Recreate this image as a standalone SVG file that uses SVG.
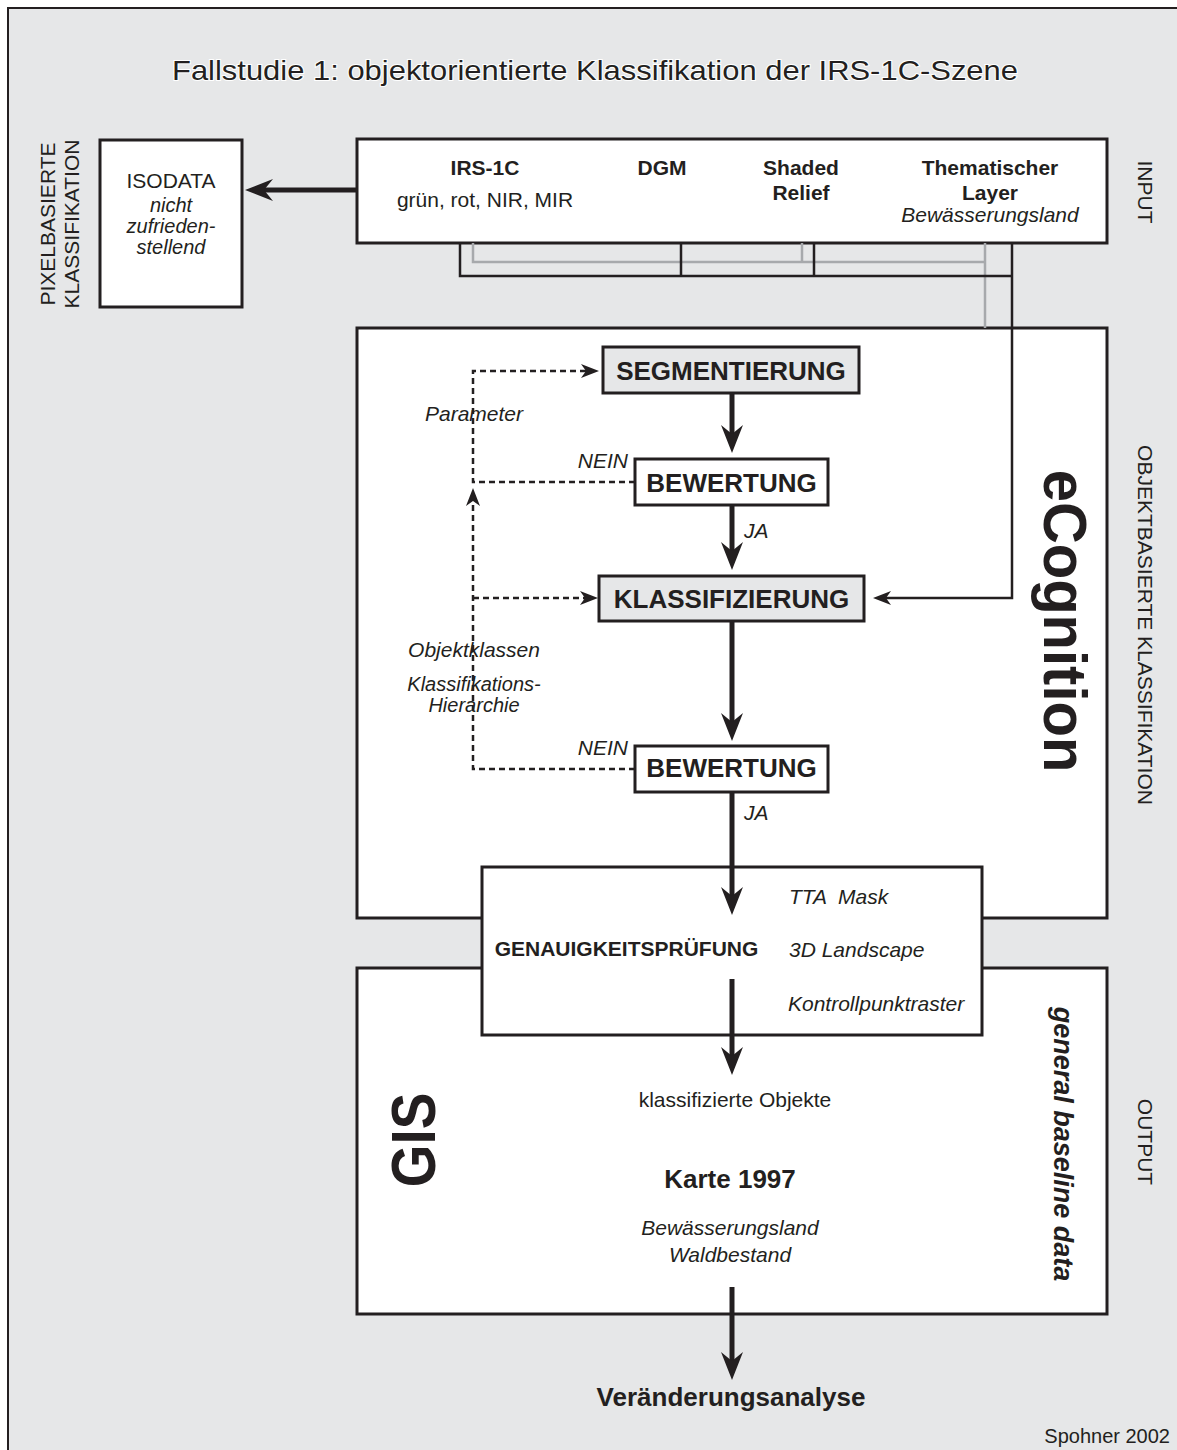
<svg xmlns="http://www.w3.org/2000/svg" width="1177" height="1450" viewBox="0 0 1177 1450">
  <style>
    text { font-family: "Liberation Sans", Arial, Helvetica, sans-serif; fill: #231f20; }
    .reg { font-size: 21px; }
    .it { font-size: 21px; font-style: italic; }
    .it20 { font-size: 20px; font-style: italic; }
    .b21 { font-size: 21px; font-weight: bold; }
    .b26 { font-size: 26px; font-weight: bold; }
    .side { font-size: 21px; }
    .mid { text-anchor: middle; }
    .box { fill: #ffffff; stroke: #231f20; stroke-width: 3; }
    .boxg { fill: #e6e7e8; stroke: #231f20; stroke-width: 3; }
    .main { fill: none; stroke: #231f20; stroke-width: 5; }
    .thin { fill: none; stroke: #231f20; stroke-width: 2.5; }
    .grey { fill: none; stroke: #a7a9ac; stroke-width: 2.5; }
    .dash { fill: none; stroke: #231f20; stroke-width: 2.5; stroke-dasharray: 6 4; }
  </style>
  <defs>
    <marker id="head-lg" markerUnits="userSpaceOnUse" viewBox="-29 -12 30 24" refX="-12" refY="0" markerWidth="30" markerHeight="24" orient="auto">
      <path d="M0,0 L-28,-11 L-19,0 L-28,11 Z" fill="#231f20"/>
    </marker>
    <marker id="head-sm" markerUnits="userSpaceOnUse" viewBox="-19 -8 20 16" refX="-8" refY="0" markerWidth="20" markerHeight="16" orient="auto">
      <path d="M0,0 L-18,-7 L-13,0 L-18,7 Z" fill="#231f20"/>
    </marker>
  </defs>

  <!-- page frame -->
  <rect x="0" y="0" width="1177" height="1450" fill="#ffffff"/>
  <rect x="8" y="8" width="1200" height="1500" fill="#e6e7e8" stroke="#231f20" stroke-width="2"/>

  <text x="595" y="80" class="mid" font-size="28" textLength="846" lengthAdjust="spacingAndGlyphs" stroke="#ffffff" stroke-width="2" paint-order="stroke">Fallstudie 1: objektorientierte Klassifikation der IRS-1C-Szene</text>

  <!-- side captions -->
  <g id="caption-pixel">
    <text class="side mid" transform="translate(55,224) rotate(-90)">PIXELBASIERTE</text>
    <text class="side mid" transform="translate(79,224) rotate(-90)">KLASSIFIKATION</text>
  </g>
  <text id="caption-input" class="side mid" transform="translate(1138,192) rotate(90)">INPUT</text>
  <text id="caption-objekt" class="side mid" transform="translate(1138,625) rotate(90)">OBJEKTBASIERTE KLASSIFIKATION</text>
  <text id="caption-output" class="side mid" transform="translate(1138,1142) rotate(90)">OUTPUT</text>

  <!-- big frames -->
  <g id="ecognition">
    <rect x="357" y="328" width="750" height="590" class="box"/>
    <text class="mid" font-size="58" font-weight="bold" transform="translate(1044,621) rotate(90) scale(1,1.05)">eCognition</text>
  </g>
  <g id="gis">
    <rect x="357" y="968" width="750" height="346" class="box"/>
    <text class="mid" font-size="55" font-weight="bold" transform="translate(435,1140) rotate(-90) scale(1,1.15)">GIS</text>
    <text class="mid" font-size="27" font-weight="bold" font-style="italic" transform="translate(1054,1144) rotate(90)">general baseline data</text>
    <text x="735" y="1107" class="reg mid">klassifizierte Objekte</text>
    <text x="730" y="1188" class="b26 mid">Karte 1997</text>
    <text x="730" y="1235" class="it mid">Bewässerungsland</text>
    <text x="730" y="1262" class="it mid">Waldbestand</text>
  </g>

  <g id="input">
    <rect x="357" y="139" width="750" height="104" class="box"/>
    <text x="485" y="175" class="b21 mid">IRS-1C</text>
    <text x="485" y="207" class="reg mid">grün, rot, NIR, MIR</text>
    <text x="662" y="175" class="b21 mid">DGM</text>
    <text x="801" y="175" class="b21 mid">Shaded</text>
    <text x="801" y="200" class="b21 mid">Relief</text>
    <text x="990" y="175" class="b21 mid">Thematischer</text>
    <text x="990" y="200" class="b21 mid">Layer</text>
    <text x="990" y="222" class="it mid">Bewässerungsland</text>
  </g>

  <g id="isodata">
    <rect x="100" y="140" width="142" height="167" class="box"/>
    <text x="171" y="188" class="reg mid">ISODATA</text>
    <text x="171" y="212" class="it20 mid">nicht</text>
    <text x="171" y="233" class="it20 mid">zufrieden-</text>
    <text x="171" y="254" class="it20 mid">stellend</text>
  </g>

  <g id="segmentierung">
    <rect x="603" y="347" width="256" height="46" class="boxg"/>
    <text x="731" y="380" class="b26 mid">SEGMENTIERUNG</text>
  </g>
  <g id="bewertung-1">
    <rect x="635" y="459" width="193" height="46" class="box"/>
    <text x="731.5" y="492" class="b26 mid">BEWERTUNG</text>
  </g>
  <g id="klassifizierung">
    <rect x="599" y="576" width="265" height="45" class="boxg"/>
    <text x="731.5" y="608" class="b26 mid">KLASSIFIZIERUNG</text>
  </g>
  <g id="bewertung-2">
    <rect x="635" y="746" width="193" height="46" class="box"/>
    <text x="731.5" y="777" class="b26 mid">BEWERTUNG</text>
  </g>
  <g id="genauigkeit">
    <rect x="482" y="867" width="500" height="168" class="box"/>
    <text x="626.5" y="956" class="b21 mid">GENAUIGKEITSPRÜFUNG</text>
    <text x="789" y="904" class="it" xml:space="preserve">TTA  Mask</text>
    <text x="789" y="957" class="it">3D Landscape</text>
    <text x="788" y="1011" class="it">Kontrollpunktraster</text>
  </g>

  <g id="endpoint">
    <text x="731" y="1406" class="b26 mid">Veränderungsanalyse</text>
    <text x="1170" y="1443" font-size="20" text-anchor="end">Spohner 2002</text>
  </g>

  <!-- connectors -->
  <g id="connectors">
    <!-- input layer bundle -->
    <path class="grey" d="M473,243 V262 H985 M802,243 V262 M985,243 V328"/>
    <path class="thin" d="M460,243 V276 H1012 M681,243 V276 M814,243 V276"/>
    <path class="thin" d="M1012,243 V598 H881" marker-end="url(#head-sm)"/>
    <!-- pixel-based branch -->
    <path class="main" d="M357,190 H257" marker-end="url(#head-lg)"/>
    <!-- main flow -->
    <path class="main" d="M732,393 V441" marker-end="url(#head-lg)"/>
    <path class="main" d="M732,505 V558" marker-end="url(#head-lg)"/>
    <path class="main" d="M732,621 V729" marker-end="url(#head-lg)"/>
    <path class="main" d="M732,792 V903" marker-end="url(#head-lg)"/>
    <path class="main" d="M732,979 V1063" marker-end="url(#head-lg)"/>
    <path class="main" d="M732,1287 V1368" marker-end="url(#head-lg)"/>
    <!-- feedback loops -->
    <path class="dash" d="M635,769 H473 V496" marker-end="url(#head-sm)"/>
    <path class="dash" d="M635,482 H473 V371 H591" marker-end="url(#head-sm)"/>
    <path class="dash" d="M473,598 H590" marker-end="url(#head-sm)"/>
    <text x="628" y="468" class="it" text-anchor="end">NEIN</text>
    <text x="744" y="538" class="it">JA</text>
    <text x="628" y="755" class="it" text-anchor="end">NEIN</text>
    <text x="744" y="820" class="it">JA</text>
    <text x="474" y="421" class="it mid">Parameter</text>
    <text x="474" y="657" class="it mid">Objektklassen</text>
    <text x="474" y="691" class="it20 mid">Klassifikations-</text>
    <text x="474" y="712" class="it20 mid">Hierarchie</text>
  </g>
</svg>
